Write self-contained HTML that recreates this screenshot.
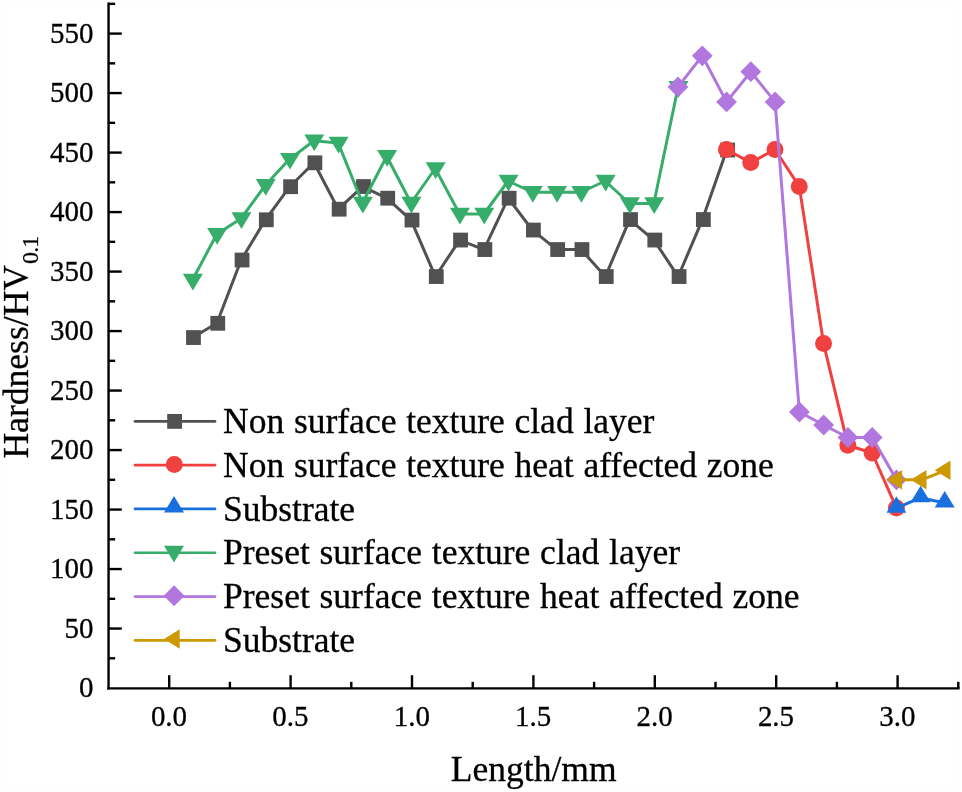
<!DOCTYPE html>
<html>
<head>
<meta charset="utf-8">
<title>Hardness chart</title>
<style>
html,body{margin:0;padding:0;background:#ffffff;}
body{width:962px;height:792px;overflow:hidden;font-family:"Liberation Serif",serif;}
svg{display:block;will-change:transform;}
text{font-family:"Liberation Serif",serif;fill:#000;stroke:#000;stroke-width:0.3px;}
</style>
</head>
<body>
<svg width="962" height="792" viewBox="0 0 962 792">
<rect x="0" y="0" width="962" height="792" fill="#ffffff"/>

<rect x="1.5" y="1.5" width="956" height="786" rx="3" ry="3" fill="none" stroke="#fdfdfd" stroke-width="1.5"/>
<g stroke="#000" stroke-width="2.4" fill="none" stroke-linecap="butt">
<line x1="108.55" y1="2.4" x2="108.55" y2="689.6"/>
<line x1="107.35" y1="688.4" x2="959.6" y2="688.4"/>
<line x1="108.55" y1="658.30" x2="115.14999999999999" y2="658.30"/>
<line x1="108.55" y1="628.55" x2="121.75" y2="628.55"/>
<line x1="108.55" y1="598.81" x2="115.14999999999999" y2="598.81"/>
<line x1="108.55" y1="569.06" x2="121.75" y2="569.06"/>
<line x1="108.55" y1="539.31" x2="115.14999999999999" y2="539.31"/>
<line x1="108.55" y1="509.56" x2="121.75" y2="509.56"/>
<line x1="108.55" y1="479.82" x2="115.14999999999999" y2="479.82"/>
<line x1="108.55" y1="450.07" x2="121.75" y2="450.07"/>
<line x1="108.55" y1="420.32" x2="115.14999999999999" y2="420.32"/>
<line x1="108.55" y1="390.57" x2="121.75" y2="390.57"/>
<line x1="108.55" y1="360.82" x2="115.14999999999999" y2="360.82"/>
<line x1="108.55" y1="331.08" x2="121.75" y2="331.08"/>
<line x1="108.55" y1="301.33" x2="115.14999999999999" y2="301.33"/>
<line x1="108.55" y1="271.58" x2="121.75" y2="271.58"/>
<line x1="108.55" y1="241.83" x2="115.14999999999999" y2="241.83"/>
<line x1="108.55" y1="212.09" x2="121.75" y2="212.09"/>
<line x1="108.55" y1="182.34" x2="115.14999999999999" y2="182.34"/>
<line x1="108.55" y1="152.59" x2="121.75" y2="152.59"/>
<line x1="108.55" y1="122.84" x2="115.14999999999999" y2="122.84"/>
<line x1="108.55" y1="93.09" x2="121.75" y2="93.09"/>
<line x1="108.55" y1="63.35" x2="115.14999999999999" y2="63.35"/>
<line x1="108.55" y1="33.60" x2="121.75" y2="33.60"/>
<line x1="108.55" y1="3.85" x2="115.14999999999999" y2="3.85"/>
<line x1="169.20" y1="688.4" x2="169.20" y2="675.1999999999999"/>
<line x1="229.90" y1="688.4" x2="229.90" y2="681.8"/>
<line x1="290.60" y1="688.4" x2="290.60" y2="675.1999999999999"/>
<line x1="351.30" y1="688.4" x2="351.30" y2="681.8"/>
<line x1="412.00" y1="688.4" x2="412.00" y2="675.1999999999999"/>
<line x1="472.70" y1="688.4" x2="472.70" y2="681.8"/>
<line x1="533.40" y1="688.4" x2="533.40" y2="675.1999999999999"/>
<line x1="594.10" y1="688.4" x2="594.10" y2="681.8"/>
<line x1="654.80" y1="688.4" x2="654.80" y2="675.1999999999999"/>
<line x1="715.50" y1="688.4" x2="715.50" y2="681.8"/>
<line x1="776.20" y1="688.4" x2="776.20" y2="675.1999999999999"/>
<line x1="836.90" y1="688.4" x2="836.90" y2="681.8"/>
<line x1="897.60" y1="688.4" x2="897.60" y2="675.1999999999999"/>
<line x1="958.30" y1="688.4" x2="958.30" y2="681.8"/>
</g>
<g font-size="29.0" text-anchor="end">
<text transform="translate(93.6 697.25) scale(1 1.045)">0</text>
<text transform="translate(93.6 637.75) scale(1 1.045)">50</text>
<text transform="translate(93.6 578.26) scale(1 1.045)">100</text>
<text transform="translate(93.6 518.76) scale(1 1.045)">150</text>
<text transform="translate(93.6 459.27) scale(1 1.045)">200</text>
<text transform="translate(93.6 399.77) scale(1 1.045)">250</text>
<text transform="translate(93.6 340.28) scale(1 1.045)">300</text>
<text transform="translate(93.6 280.78) scale(1 1.045)">350</text>
<text transform="translate(93.6 221.29) scale(1 1.045)">400</text>
<text transform="translate(93.6 161.79) scale(1 1.045)">450</text>
<text transform="translate(93.6 102.29) scale(1 1.045)">500</text>
<text transform="translate(93.6 42.80) scale(1 1.045)">550</text>
</g>
<g font-size="29.0" text-anchor="middle">
<text transform="translate(169.00 725.6) scale(1 1.045)">0.0</text>
<text transform="translate(290.40 725.6) scale(1 1.045)">0.5</text>
<text transform="translate(411.80 725.6) scale(1 1.045)">1.0</text>
<text transform="translate(533.20 725.6) scale(1 1.045)">1.5</text>
<text transform="translate(654.60 725.6) scale(1 1.045)">2.0</text>
<text transform="translate(776.00 725.6) scale(1 1.045)">2.5</text>
<text transform="translate(897.40 725.6) scale(1 1.045)">3.0</text>
</g>
<text x="533.7" y="780.6" font-size="35.5" text-anchor="middle">Length/mm</text>
<text transform="translate(28.2,458.6) rotate(-90)" font-size="35.6">Hardness/HV<tspan font-size="24" dx="0.9" dy="10.0" letter-spacing="-0.8">0.1</tspan></text>
<g>
<polyline points="192.58,337.55 216.86,323.30 241.14,260.05 265.42,219.80 289.70,186.70 313.98,162.80 338.26,209.20 362.54,186.55 386.82,198.20 411.10,220.05 435.38,276.55 459.66,240.05 483.94,249.55 508.22,198.20 532.50,230.05 556.78,249.55 581.06,249.55 605.34,276.55 629.62,219.55 653.90,240.05 678.18,276.55 702.46,219.55 726.74,150.05" fill="none" stroke="#515151" stroke-width="3.0" stroke-linejoin="round"/>
<rect x="186.08" y="330.15" width="14.8" height="14.8" fill="#515151"/>
<rect x="210.36" y="315.90" width="14.8" height="14.8" fill="#515151"/>
<rect x="234.64" y="252.65" width="14.8" height="14.8" fill="#515151"/>
<rect x="258.92" y="212.40" width="14.8" height="14.8" fill="#515151"/>
<rect x="283.20" y="179.30" width="14.8" height="14.8" fill="#515151"/>
<rect x="307.48" y="155.40" width="14.8" height="14.8" fill="#515151"/>
<rect x="331.76" y="201.80" width="14.8" height="14.8" fill="#515151"/>
<rect x="356.04" y="179.15" width="14.8" height="14.8" fill="#515151"/>
<rect x="380.32" y="190.80" width="14.8" height="14.8" fill="#515151"/>
<rect x="404.60" y="212.65" width="14.8" height="14.8" fill="#515151"/>
<rect x="428.88" y="269.15" width="14.8" height="14.8" fill="#515151"/>
<rect x="453.16" y="232.65" width="14.8" height="14.8" fill="#515151"/>
<rect x="477.44" y="242.15" width="14.8" height="14.8" fill="#515151"/>
<rect x="501.72" y="190.80" width="14.8" height="14.8" fill="#515151"/>
<rect x="526.00" y="222.65" width="14.8" height="14.8" fill="#515151"/>
<rect x="550.28" y="242.15" width="14.8" height="14.8" fill="#515151"/>
<rect x="574.56" y="242.15" width="14.8" height="14.8" fill="#515151"/>
<rect x="598.84" y="269.15" width="14.8" height="14.8" fill="#515151"/>
<rect x="623.12" y="212.15" width="14.8" height="14.8" fill="#515151"/>
<rect x="647.40" y="232.65" width="14.8" height="14.8" fill="#515151"/>
<rect x="671.68" y="269.15" width="14.8" height="14.8" fill="#515151"/>
<rect x="695.96" y="212.15" width="14.8" height="14.8" fill="#515151"/>
<rect x="720.24" y="142.65" width="14.8" height="14.8" fill="#515151"/>
<polyline points="726.44,149.50 750.72,162.60 775.00,149.50 799.28,186.40 823.56,343.40 847.84,445.20 872.12,453.00 896.40,507.90" fill="none" stroke="#F14040" stroke-width="3.0" stroke-linejoin="round"/>
<circle cx="726.44" cy="149.50" r="8.5" fill="#F14040"/>
<circle cx="750.72" cy="162.60" r="8.5" fill="#F14040"/>
<circle cx="775.00" cy="149.50" r="8.5" fill="#F14040"/>
<circle cx="799.28" cy="186.40" r="8.5" fill="#F14040"/>
<circle cx="823.56" cy="343.40" r="8.5" fill="#F14040"/>
<circle cx="847.84" cy="445.20" r="8.5" fill="#F14040"/>
<circle cx="872.12" cy="453.00" r="8.5" fill="#F14040"/>
<circle cx="896.40" cy="507.90" r="8.5" fill="#F14040"/>
<polyline points="896.40,508.20 920.60,497.70 944.70,503.00" fill="none" stroke="#1A6FDF" stroke-width="3.0" stroke-linejoin="round"/>
<polygon points="886.40,512.70 906.40,512.70 896.40,496.30" fill="#1A6FDF"/>
<polygon points="910.60,502.20 930.60,502.20 920.60,485.80" fill="#1A6FDF"/>
<polygon points="934.70,507.50 954.70,507.50 944.70,491.10" fill="#1A6FDF"/>
<polyline points="192.48,279.95 216.76,234.25 241.04,218.50 265.32,185.25 289.60,159.10 313.88,140.75 338.16,142.90 362.44,203.00 386.72,156.25 411.00,203.00 435.28,168.50 459.56,214.00 483.84,214.00 508.12,181.00 532.40,192.25 556.68,192.25 580.96,192.25 605.24,181.00 629.52,203.50 653.80,203.50 678.08,87.20" fill="none" stroke="#37AD6B" stroke-width="3.0" stroke-linejoin="round"/>
<polygon points="182.88,273.75 202.88,273.75 192.88,290.45" fill="#37AD6B"/>
<polygon points="207.16,228.05 227.16,228.05 217.16,244.75" fill="#37AD6B"/>
<polygon points="231.44,212.30 251.44,212.30 241.44,229.00" fill="#37AD6B"/>
<polygon points="255.72,179.05 275.72,179.05 265.72,195.75" fill="#37AD6B"/>
<polygon points="280.00,152.90 300.00,152.90 290.00,169.60" fill="#37AD6B"/>
<polygon points="304.28,134.55 324.28,134.55 314.28,151.25" fill="#37AD6B"/>
<polygon points="328.56,136.70 348.56,136.70 338.56,153.40" fill="#37AD6B"/>
<polygon points="352.84,196.80 372.84,196.80 362.84,213.50" fill="#37AD6B"/>
<polygon points="377.12,150.05 397.12,150.05 387.12,166.75" fill="#37AD6B"/>
<polygon points="401.40,196.80 421.40,196.80 411.40,213.50" fill="#37AD6B"/>
<polygon points="425.68,162.30 445.68,162.30 435.68,179.00" fill="#37AD6B"/>
<polygon points="449.96,207.80 469.96,207.80 459.96,224.50" fill="#37AD6B"/>
<polygon points="474.24,207.80 494.24,207.80 484.24,224.50" fill="#37AD6B"/>
<polygon points="498.52,174.80 518.52,174.80 508.52,191.50" fill="#37AD6B"/>
<polygon points="522.80,186.05 542.80,186.05 532.80,202.75" fill="#37AD6B"/>
<polygon points="547.08,186.05 567.08,186.05 557.08,202.75" fill="#37AD6B"/>
<polygon points="571.36,186.05 591.36,186.05 581.36,202.75" fill="#37AD6B"/>
<polygon points="595.64,174.80 615.64,174.80 605.64,191.50" fill="#37AD6B"/>
<polygon points="619.92,197.30 639.92,197.30 629.92,214.00" fill="#37AD6B"/>
<polygon points="644.20,197.30 664.20,197.30 654.20,214.00" fill="#37AD6B"/>
<polygon points="668.48,81.00 688.48,81.00 678.48,97.70" fill="#37AD6B"/>
<polyline points="677.98,86.90 702.26,55.80 726.54,101.90 750.82,71.70 775.10,101.90 799.38,412.00 823.66,425.00 847.94,437.50 872.22,437.50 896.50,479.80" fill="none" stroke="#B177DE" stroke-width="3.0" stroke-linejoin="round"/>
<polygon points="667.58,86.90 677.98,76.50 688.38,86.90 677.98,97.30" fill="#B177DE"/>
<polygon points="691.86,55.80 702.26,45.40 712.66,55.80 702.26,66.20" fill="#B177DE"/>
<polygon points="716.14,101.90 726.54,91.50 736.94,101.90 726.54,112.30" fill="#B177DE"/>
<polygon points="740.42,71.70 750.82,61.30 761.22,71.70 750.82,82.10" fill="#B177DE"/>
<polygon points="764.70,101.90 775.10,91.50 785.50,101.90 775.10,112.30" fill="#B177DE"/>
<polygon points="788.98,412.00 799.38,401.60 809.78,412.00 799.38,422.40" fill="#B177DE"/>
<polygon points="813.26,425.00 823.66,414.60 834.06,425.00 823.66,435.40" fill="#B177DE"/>
<polygon points="837.54,437.50 847.94,427.10 858.34,437.50 847.94,447.90" fill="#B177DE"/>
<polygon points="861.82,437.50 872.22,427.10 882.62,437.50 872.22,447.90" fill="#B177DE"/>
<polygon points="886.10,479.80 896.50,469.40 906.90,479.80 896.50,490.20" fill="#B177DE"/>
<polyline points="897.20,479.80 921.60,479.80 945.60,470.30" fill="none" stroke="#CC9900" stroke-width="3.0" stroke-linejoin="round"/>
<polygon points="902.10,470.00 902.10,489.60 886.40,479.80" fill="#CC9900"/>
<polygon points="926.50,470.00 926.50,489.60 910.80,479.80" fill="#CC9900"/>
<polygon points="950.50,460.50 950.50,480.10 934.80,470.30" fill="#CC9900"/>
</g>
<g font-size="35.5" word-spacing="0.9">
<line x1="135.0" y1="421.30" x2="215.0" y2="421.30" stroke="#515151" stroke-width="2.7" stroke-linecap="round"/>
<rect x="167.20" y="414.00" width="14.8" height="14.8" fill="#515151"/>
<text x="223.0" y="433.05">Non surface texture clad layer</text>
<line x1="135.0" y1="465.11" x2="215.0" y2="465.11" stroke="#F14040" stroke-width="2.7" stroke-linecap="round"/>
<circle cx="174.30" cy="464.61" r="8.5" fill="#F14040"/>
<text x="223.0" y="476.86">Non surface texture heat affected zone</text>
<line x1="135.0" y1="508.92" x2="215.0" y2="508.92" stroke="#1A6FDF" stroke-width="2.7" stroke-linecap="round"/>
<polygon points="164.00,512.52 184.00,512.52 174.00,496.12" fill="#1A6FDF"/>
<text x="223.0" y="520.67">Substrate</text>
<line x1="135.0" y1="552.73" x2="215.0" y2="552.73" stroke="#37AD6B" stroke-width="2.7" stroke-linecap="round"/>
<polygon points="164.00,545.83 184.00,545.83 174.00,562.53" fill="#37AD6B"/>
<text x="223.0" y="564.48">Preset surface texture clad layer</text>
<line x1="135.0" y1="596.54" x2="215.0" y2="596.54" stroke="#B177DE" stroke-width="2.7" stroke-linecap="round"/>
<polygon points="163.70,595.74 174.10,585.34 184.50,595.74 174.10,606.14" fill="#B177DE"/>
<text x="223.0" y="608.29">Preset surface texture heat affected zone</text>
<line x1="135.0" y1="640.35" x2="215.0" y2="640.35" stroke="#CC9900" stroke-width="2.7" stroke-linecap="round"/>
<polygon points="179.70,629.15 179.70,648.75 164.00,638.95" fill="#CC9900"/>
<text x="223.0" y="652.10">Substrate</text>
</g>
</svg>
</body>
</html>
